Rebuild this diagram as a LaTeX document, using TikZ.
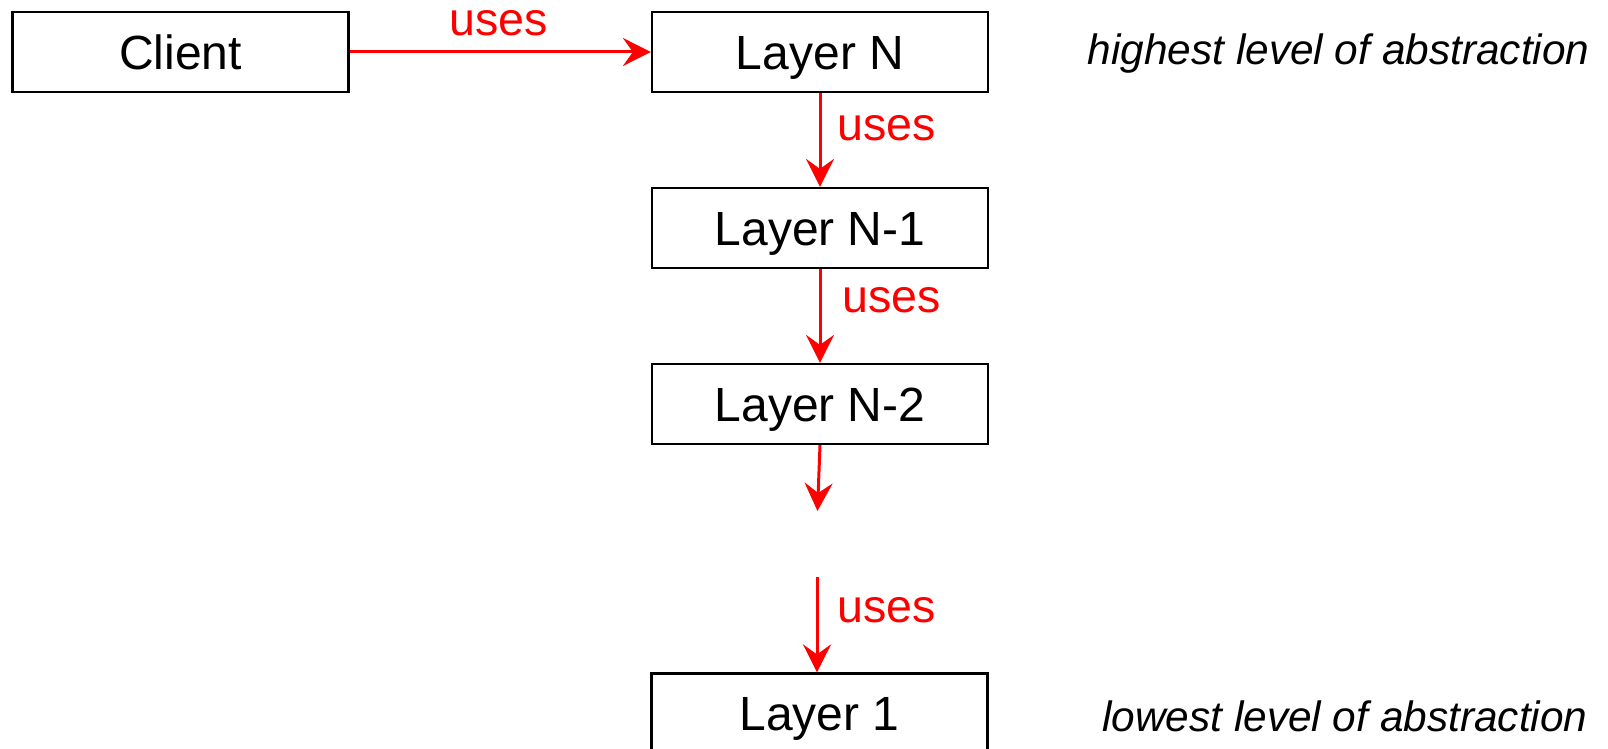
\documentclass[tikz,border=0pt]{standalone}
\usepackage{fontspec}
\setmainfont{Liberation Sans}
\usetikzlibrary{arrows.meta}
\begin{document}
\begin{tikzpicture}[x=0.5pt,y=-0.5pt,
  layerbox/.style={draw=black, line width=1.1pt, minimum width=168pt,
    minimum height=40pt, inner sep=0pt, text height=17.2pt, text depth=0pt,
    font=\fontsize{24}{28}\selectfont},
  useslabel/.style={text=red, inner sep=0pt, font=\fontsize{23.3}{27}\selectfont},
  usesarrow/.style={draw=red, line width=1.5pt,
    -{Stealth[length=14pt,width=14pt,inset=5pt]}},
  levelnote/.style={inner sep=0pt, anchor=base east,
    font=\fontsize{21.2}{25}\selectfont\itshape}]
  \useasboundingbox (0,0) rectangle (1608,749);

  % boxes
  \node[layerbox] (client) at (180.5,52) {Client};
  \node[layerbox] (ln)  at (820,52)  {Layer N};
  \node[layerbox] (ln1) at (820,228) {Layer N-1};
  \node[layerbox] (ln2) at (820,404) {Layer N-2};
  \node[layerbox] (l1)  at (819.5,713.5) {Layer 1};

  % open ends of the elided middle layers
  \coordinate (gapend)   at (817.5,511);
  \coordinate (gapstart) at (817,577);

  % "uses" connectors
  \draw[usesarrow] (client.east) -- (ln.west);
  \draw[usesarrow] (ln.south) -- (ln1.north);
  \draw[usesarrow] (ln1.south) -- (ln2.north);
  \draw[usesarrow] (ln2.south) -- (gapend);
  \draw[usesarrow] (gapstart) -- (gapstart |- l1.north);

  \node[useslabel] (u1) at (499,23)    {uses};
  \node[useslabel] (u2) at (886.5,128) {uses};
  \node[useslabel] (u3) at (891.5,300.5) {uses};
  \node[useslabel] (u4) at (886.5,610.5) {uses};

  % abstraction levels
  \node[levelnote] (hi) at (1590,65)  {highest level of abstraction};
  \node[levelnote] (lo) at (1588,731) {lowest level of abstraction};
\end{tikzpicture}
\end{document}
